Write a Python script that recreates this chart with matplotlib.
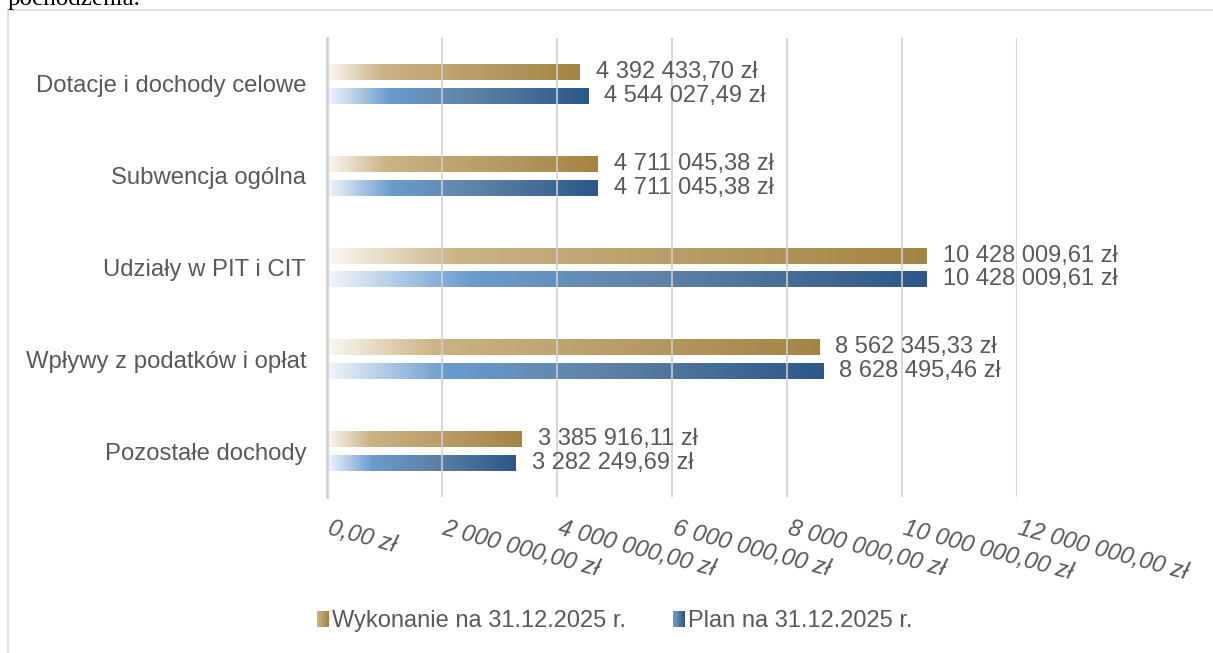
import numpy as np
import matplotlib
matplotlib.use("Agg")
import matplotlib.pyplot as plt
from matplotlib.colors import LinearSegmentedColormap
from matplotlib.legend_handler import HandlerBase
from matplotlib.patches import Rectangle, Patch
from matplotlib.lines import Line2D
from matplotlib.transforms import ScaledTranslation

categories = ['Dotacje i dochody celowe', 'Subwencja ogólna', 'Udziały w PIT i CIT',
              'Wpływy z podatków i opłat', 'Pozostałe dochody']
wykonanie = [4392433.70, 4711045.38, 10428009.61, 8562345.33, 3385916.11]
plan = [4544027.49, 4711045.38, 10428009.61, 8628495.46, 3282249.69]
series_names = ['Wykonanie na 31.12.2025 r.', 'Plan na 31.12.2025 r.']
x_ticks = [0, 2e6, 4e6, 6e6, 8e6, 10e6, 12e6]

TEXT = '#595959'
GRID = '#d9d9d9'


def rgb(*c):
    return tuple(v / 255 for v in c)


gold_cmap = LinearSegmentedColormap.from_list('gold', [
    (0.0, rgb(251, 248, 242)), (0.22, rgb(203, 179, 133)),
    (0.6, rgb(185, 156, 102)), (1.0, rgb(164, 132, 67))])
blue_cmap = LinearSegmentedColormap.from_list('blue', [
    (0.0, rgb(242, 246, 251)), (0.24, rgb(106, 155, 206)),
    (0.55, rgb(95, 131, 166)), (1.0, rgb(44, 87, 135))])


def fmt(v):
    return f"{v:,.2f}".replace(',', ' ').replace('.', ',') + ' zł'


class GradientHandler(HandlerBase):
    def __init__(self, cmap):
        super().__init__()
        self.cmap = cmap

    def create_artists(self, legend, orig_handle, xdescent, ydescent,
                       width, height, fontsize, trans):
        n = 6
        arts = []
        for i in range(n):
            r = Rectangle((-xdescent + width * i / n, -ydescent - 1), width / n + 0.2,
                          height + 2, facecolor=self.cmap(0.25 + 0.75 * i / (n - 1)),
                          edgecolor='none', transform=trans)
            arts.append(r)
        return arts


def main():
    plt.rcParams['font.family'] = ['Liberation Sans', 'DejaVu Sans']
    fig = plt.figure(figsize=(12.13, 6.53), dpi=100)
    ax = fig.add_axes([327 / 1213, 1 - 497 / 653, 690 / 1213, 459 / 653])

    y = np.arange(len(categories))
    h = 0.174
    off = 0.13
    bars_w = ax.barh(y - off, wykonanie, height=h, color='none', edgecolor='none')
    bars_p = ax.barh(y + off, plan, height=h, color='none', edgecolor='none')

    grad = np.linspace(0, 1, 256).reshape(1, -1)
    for bars, cmap in ((bars_w, gold_cmap), (bars_p, blue_cmap)):
        for b in bars:
            x0, y0, w, hh = b.get_x(), b.get_y(), b.get_width(), b.get_height()
            im = ax.imshow(grad, extent=[x0, x0 + w, y0, y0 + hh], aspect='auto',
                           cmap=cmap, zorder=1, interpolation='bilinear')
            im.set_clip_path(b)
            ax.annotate(fmt(w), xy=(x0 + w, y0 + hh / 2), xytext=(16, 0),
                        textcoords='offset pixels', va='center', ha='left',
                        fontsize=17, color=TEXT, annotation_clip=False)

    ax.set_xlim(0, 12e6)
    ax.set_ylim(len(categories) - 0.5, -0.5)
    ax.set_yticks(y)
    ax.set_yticklabels(categories, fontsize=17.2, color=TEXT)
    ax.tick_params(axis='y', length=0, pad=15)
    ax.set_xticks(x_ticks)
    ax.set_xticklabels([fmt(v) for v in x_ticks], fontsize=17, color=TEXT,
                       style='italic', rotation=-15, ha='left', va='top',
                       rotation_mode='anchor')
    ax.tick_params(axis='x', length=0, pad=14)
    shift = ScaledTranslation(4 / 100, 0, fig.dpi_scale_trans)
    for lab in ax.get_xticklabels():
        lab.set_transform(lab.get_transform() + shift)

    ax.set_axisbelow(False)
    ax.grid(axis='x', color='#cfcfcf', linewidth=1.5, alpha=0.8)
    ax.grid(axis='y', visible=False)
    for s in ('top', 'right', 'bottom'):
        ax.spines[s].set_visible(False)
    ax.spines['left'].set_color(GRID)
    ax.spines['left'].set_linewidth(2.4)

    handles = [Patch(), Patch()]
    fig.legend(handles, series_names, ncol=2, loc='center',
               bbox_to_anchor=(615 / 1213, 1 - 621 / 653), frameon=False,
               fontsize=17, labelcolor=TEXT, handlelength=0.5, handleheight=0.5,
               handletextpad=0.13, columnspacing=2.0,
               handler_map={handles[0]: GradientHandler(gold_cmap),
                            handles[1]: GradientHandler(blue_cmap)})

    # frame and cut-off paragraph text above the chart
    fig.add_artist(Line2D([8 / 1213, 1], [1 - 10 / 653] * 2, color=GRID, lw=1.2))
    fig.add_artist(Line2D([8 / 1213] * 2, [0, 1 - 10 / 653], color=GRID, lw=1.2))
    fig.text(8 / 1213, 1 - 5 / 653, 'pochodzenia.', family='Liberation Serif',
             fontsize=18, color='black', va='baseline', ha='left')

    fig.savefig('out.png', dpi=100)


if __name__ == "__main__":
    main()
